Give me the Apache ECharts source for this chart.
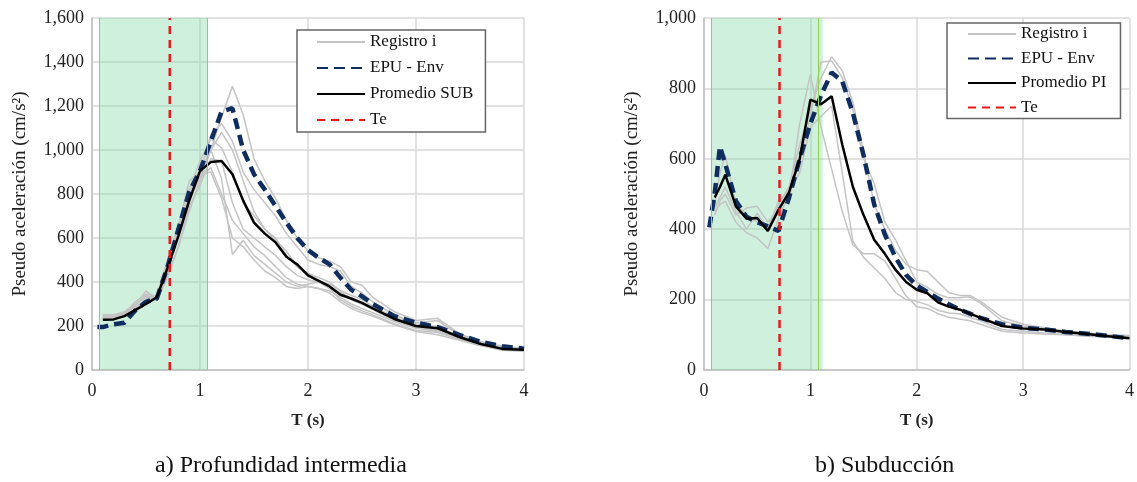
<!DOCTYPE html>
<html>
<head>
<meta charset="utf-8">
<script src="https://cdn.jsdelivr.net/npm/echarts@6/dist/echarts.min.js"></script>
<style>
html,body{margin:0;padding:0;background:#fff;}
#c{width:1137px;height:482px;}
</style>
</head>
<body>
<div id="c"></div>
<script>
// ---------- Panel a) Profundidad intermedia ----------
const T_A = [0.05,0.1,0.2,0.3,0.4,0.5,0.6,0.7,0.8,0.9,1.0,1.1,1.2,1.3,1.4,1.5,1.6,1.7,1.8,1.9,2.0,2.1,2.2,2.3,2.4,2.5,2.6,2.8,3.0,3.2,3.4,3.6,3.8,4.0];
const ENV_A = [195,195,208,215,270,310,325,470,640,810,905,1040,1175,1190,1000,890,820,745,670,600,545,510,480,420,365,335,300,245,215,195,160,128,108,97];
const MEAN_A = [null,228,230,245,272,300,330,465,610,770,905,945,950,890,770,670,620,580,515,480,430,405,380,342,325,305,280,232,200,190,150,118,96,92];
const REC_A1 = [null,250,252,262,300,335,330,430,560,720,860,1000,1150,1290,1160,960,860,780,680,600,540,510,495,470,400,385,330,265,225,235,165,130,108,98];
const REC_A2 = [null,240,245,255,290,360,320,470,650,860,900,1000,1080,1000,860,720,640,590,540,470,430,400,380,350,320,300,280,235,200,190,150,120,100,92];
const REC_A3 = [null,235,238,250,280,310,340,480,620,800,880,1000,870,525,590,520,480,440,400,380,390,400,370,320,290,270,250,210,180,170,140,115,95,88];
const REC_A4 = [null,248,250,265,300,330,320,450,600,780,870,920,800,680,620,560,520,470,420,390,380,370,360,330,300,280,260,220,190,175,145,118,98,90];
const REC_A5 = [null,230,232,250,285,320,340,500,660,820,950,1050,1010,900,760,700,640,600,520,470,440,420,400,360,340,320,290,240,210,195,155,122,100,93];
const REC_A6 = [null,238,240,258,295,340,315,420,560,740,840,960,950,760,640,600,560,520,470,430,410,400,390,360,320,300,275,225,195,180,148,118,96,88];
const REC_A7 = [null,245,247,258,310,345,335,490,640,810,890,1070,1120,1040,900,820,760,700,620,560,500,480,470,450,380,350,310,250,215,225,160,125,105,95];
const REC_A8 = [null,240,243,252,285,315,330,460,610,760,890,900,780,600,560,500,450,420,380,370,380,370,350,310,280,260,245,205,175,160,135,110,90,85];
const TE_A = 0.72;
const SHADE_A = [0.065, 1.072];
const EDGE_A = [0.065, 1.072];
const YMAX_A = 1600;

// ---------- Panel b) Subducción ----------
const T_B = [0.05,0.1,0.15,0.2,0.3,0.4,0.5,0.6,0.7,0.8,0.9,1.0,1.1,1.2,1.3,1.4,1.5,1.6,1.7,1.8,1.9,2.0,2.1,2.2,2.3,2.4,2.5,2.6,2.8,3.0,3.2,3.4,3.6,3.8,4.0];
const ENV_B = [405,500,635,585,480,435,420,408,395,490,600,700,780,845,820,730,610,470,385,320,270,240,222,203,187,172,160,148,130,120,115,108,103,97,90];
const MEAN_B = [null,490,520,555,465,430,432,395,455,505,600,768,755,778,640,520,440,370,330,285,250,228,218,192,180,172,160,148,125,118,115,108,102,96,90];
const REC_B1 = [null,470,560,610,470,440,420,405,470,520,640,740,830,890,850,760,620,470,400,340,300,285,280,250,220,212,212,195,150,130,120,110,105,100,98];
const REC_B2 = [null,450,470,480,420,390,375,345,430,500,700,840,690,570,450,355,330,330,310,260,210,180,175,160,150,145,140,130,110,105,102,100,97,95,92];
const REC_B3 = [null,440,480,500,440,460,465,420,460,490,600,720,875,878,830,740,600,530,420,370,310,250,235,215,205,205,208,190,140,125,118,108,102,97,95];
const REC_B4 = [null,460,490,520,450,400,445,400,480,510,560,690,720,750,560,365,320,290,260,220,200,195,185,170,162,160,150,140,115,110,105,100,96,93,90];
const TE_B = 0.71;
const SHADE_B = [0.07, 1.115];
const EDGE_B = [0.07, 1.075];
const YMAX_B = 1000;

const X_TICKS = [0, 4, 1];

function pairs(T, Y) {
  const out = [];
  T.forEach((t, i) => { if (Y[i] != null) out.push([t, Y[i]]); });
  return out;
}

const SERIF = 'Liberation Serif';
const GRAY = '#c4c4c4';
const NAVY = '#0f2d5e';
const RED = '#e8191c';

function recSeries(Y, idx, T) {
  return { name: 'Registro i', type: 'line', xAxisIndex: idx, yAxisIndex: idx, data: pairs(T, Y),
    symbol: 'none', lineStyle: { color: GRAY, width: 1.5 }, itemStyle: { color: GRAY }, z: 2 };
}
function envSeries(Y, idx, T) {
  return { name: 'EPU - Env', type: 'line', xAxisIndex: idx, yAxisIndex: idx, data: pairs(T, Y),
    symbol: 'none', lineStyle: { color: NAVY, width: 4.5, type: [11, 6] }, itemStyle: { color: NAVY }, z: 3 };
}
function meanSeries(name, Y, idx, T) {
  return { name: name, type: 'line', xAxisIndex: idx, yAxisIndex: idx, data: pairs(T, Y),
    symbol: 'none', lineStyle: { color: '#000', width: 2.5 }, itemStyle: { color: '#000' }, z: 4 };
}
function teSeries(te, ymax, shade, edge, idx) {
  return { name: 'Te', type: 'line', xAxisIndex: idx, yAxisIndex: idx, data: [[te, 0], [te, ymax]],
    symbol: 'none', lineStyle: { color: RED, width: 2.5, type: [8, 6] }, itemStyle: { color: RED }, z: 5,
    markArea: { silent: true, itemStyle: { color: 'rgba(125,215,165,0.38)' },
      data: [[{ xAxis: shade[0] }, { xAxis: shade[1] }]] },
    markLine: { silent: true, symbol: 'none', label: { show: false },
      lineStyle: { color: '#92d050', width: 1, type: 'solid' },
      data: [{ xAxis: edge[0] }, { xAxis: edge[1] }] } };
}

function xAxisCfg(idx) {
  return { type: 'value', gridIndex: idx, min: X_TICKS[0], max: X_TICKS[1], interval: X_TICKS[2],
    name: 'T (s)', nameLocation: 'middle', nameGap: 42,
    nameTextStyle: { fontFamily: SERIF, fontSize: 17, fontWeight: 'bold', color: '#222' },
    axisLine: { show: true, lineStyle: { color: '#bfbfbf', width: 1.5 } }, axisTick: { show: false },
    axisLabel: { fontFamily: SERIF, fontSize: 18, color: '#222', margin: 12 },
    splitLine: { show: true, lineStyle: { color: '#d9d9d9', width: 1.5 } } };
}
function yAxisCfg(idx, ymax) {
  return { type: 'value', gridIndex: idx, min: 0, max: ymax, interval: 200,
    name: 'Pseudo aceleración (cm/s²)', nameLocation: 'middle', nameGap: 62,
    nameTextStyle: { fontFamily: SERIF, fontSize: 19, color: '#222' },
    axisLine: { show: true, lineStyle: { color: '#bfbfbf', width: 1.5 } }, axisTick: { show: false },
    axisLabel: { fontFamily: SERIF, fontSize: 18, color: '#222', margin: 8,
      formatter: v => v.toLocaleString('en-US') },
    splitLine: { show: true, lineStyle: { color: '#d9d9d9', width: 1.5 } } };
}
function legendCfg(names, left, top, gap, pad) {
  return { orient: 'vertical', left: left, top: top, data: names, itemWidth: 48, itemHeight: 14,
    itemGap: gap, padding: pad, backgroundColor: '#fff', borderColor: '#666', borderWidth: 1.5,
    selectedMode: false, itemStyle: { opacity: 0 },
    textStyle: { fontFamily: SERIF, fontSize: 17, color: '#111', lineHeight: 20 } };
}

const chart = echarts.init(document.getElementById('c'), null, { renderer: 'canvas' });
chart.setOption({
  animation: false,
  backgroundColor: '#fff',
  grid: [
    { left: 92, top: 18, width: 432, height: 352 },
    { left: 704, top: 18, width: 432, height: 352 }
  ],
  xAxis: [xAxisCfg(0), xAxisCfg(1)],
  yAxis: [yAxisCfg(0, YMAX_A), yAxisCfg(1, YMAX_B)],
  legend: [
    legendCfg(['Registro i', 'EPU - Env', 'Promedio SUB', 'Te'], 297, 30, 6, [2, 12, 2, 19]),
    legendCfg(['Registro i', 'EPU - Env', 'Promedio PI', 'Te'], 947, 23, 4.5, [1, 14, 1, 20])
  ],
  graphic: [
    { type: 'text', left: 155, top: 454, style: { text: 'a) Profundidad intermedia', font: '24px "Liberation Serif"', fill: '#111' } },
    { type: 'text', left: 815, top: 454, style: { text: 'b) Subducción', font: '24px "Liberation Serif"', fill: '#111' } }
  ],
  series: [
    recSeries(REC_A1, 0, T_A), recSeries(REC_A2, 0, T_A), recSeries(REC_A3, 0, T_A), recSeries(REC_A4, 0, T_A),
    recSeries(REC_A5, 0, T_A), recSeries(REC_A6, 0, T_A), recSeries(REC_A7, 0, T_A), recSeries(REC_A8, 0, T_A),
    envSeries(ENV_A, 0, T_A),
    meanSeries('Promedio SUB', MEAN_A, 0, T_A),
    teSeries(TE_A, YMAX_A, SHADE_A, EDGE_A, 0),
    recSeries(REC_B1, 1, T_B), recSeries(REC_B2, 1, T_B), recSeries(REC_B3, 1, T_B), recSeries(REC_B4, 1, T_B),
    envSeries(ENV_B, 1, T_B),
    meanSeries('Promedio PI', MEAN_B, 1, T_B),
    teSeries(TE_B, YMAX_B, SHADE_B, EDGE_B, 1)
  ]
});
</script>
</body>
</html>
